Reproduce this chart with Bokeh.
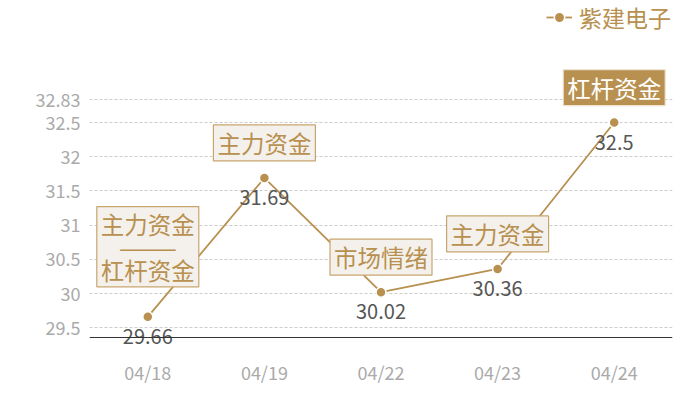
from bokeh.plotting import figure
from bokeh.models import (ColumnDataSource, Range1d, FactorRange, FixedTicker,
                          Legend, LegendItem, CustomJSTickFormatter)
from bokeh.core.properties import value
from bokeh.embed import file_html
from bokeh.resources import INLINE

# ---- data ----
dates = ["04/18", "04/19", "04/22", "04/23", "04/24"]
prices = [29.66, 31.69, 30.02, 30.36, 32.5]
price_labels = ["29.66", "31.69", "30.02", "30.36", "32.5"]
notes = ["主力资金\n———\n杠杆资金", "主力资金", "市场情绪", "主力资金", "杠杆资金"]
series_name = "紫建电子"
y_ticks = [29.5, 30, 30.5, 31, 31.5, 32, 32.5, 32.83]
axis_base = 29.358                      # value where the x axis line sits
y_view = (28.671, 34.284)               # visible span of the frame

# ---- style ----
TAN = "#b8904f"
FONT = "Noto Sans CJK SC"

p = figure(width=684, height=384, output_backend="svg", toolbar_location=None,
           x_range=FactorRange(*dates, range_padding=0),
           y_range=Range1d(*y_view),
           min_border_left=89, min_border_right=12, min_border_top=0,
           min_border_bottom=0)
p.outline_line_color = None
p.background_fill_color = "white"
p.border_fill_color = "white"

# axes
p.yaxis.ticker = FixedTicker(ticks=y_ticks)
p.yaxis.formatter = CustomJSTickFormatter(code="return String(+tick.toFixed(2));")
p.yaxis.axis_line_color = None
p.yaxis.major_tick_line_color = None
p.yaxis.minor_tick_line_color = None
p.yaxis.major_tick_out = 0
p.yaxis.minor_tick_out = 0
p.yaxis.major_label_text_color = "#aaaaaa"
p.yaxis.major_label_text_font = FONT
p.yaxis.major_label_text_font_size = "18px"
p.yaxis.major_label_standoff = 9

p.xaxis.fixed_location = axis_base
p.xaxis.axis_line_color = "#333333"
p.xaxis.axis_line_width = 1
p.xaxis.major_tick_line_color = None
p.xaxis.minor_tick_line_color = None
p.xaxis.major_tick_out = 0
p.xaxis.minor_tick_out = 0
p.xaxis.axis_label_standoff = 0
p.xaxis.major_label_text_color = "#aaaaaa"
p.xaxis.major_label_text_font = FONT
p.xaxis.major_label_text_font_size = "18px"
p.xaxis.major_label_standoff = 21

p.xgrid.grid_line_color = None
p.ygrid.grid_line_color = "#cccccc"
p.ygrid.grid_line_dash = "3 2"
p.ygrid.grid_line_width = 1

src = ColumnDataSource(dict(x=dates, y=prices, lab=price_labels, note=notes))

line = p.line("x", "y", source=src, line_color=TAN, line_width=1.8)
dots = p.scatter("x", "y", source=src, size=10, fill_color=TAN,
                 line_color="white", line_width=1.5)

# value labels below the points
p.text("x", "y", text="lab", source=src, text_align="center",
       text_baseline="top", y_offset=12, text_color="#555555",
       text_font=value(FONT), text_font_size="20px")

# annotation boxes
idx_tall = [0]
idx_plain = [1, 2, 3]
idx_solid = [4]

def sub(ids):
    return ColumnDataSource(dict(x=[dates[i] for i in ids],
                                 y=[prices[i] for i in ids],
                                 note=[notes[i] for i in ids]))

common = dict(text="note", text_align="center", text_baseline="bottom",
              anchor="bottom_center", text_font=value(FONT),
              text_font_size="23.5px")

p.text("x", "y", source=sub(idx_tall), y_offset=-30, text_color=TAN,
       background_fill_color="#f4f1ec", border_line_color="#c9a56e",
       border_line_width=1.2, text_line_height=0.68, padding=(4, 0), **common)
p.text("x", "y", source=sub(idx_plain), y_offset=-17, text_color=TAN,
       background_fill_color="#f4f1ec", border_line_color="#c9a56e",
       border_line_width=1.2, padding=(4, 1), **common)
p.text("x", "y", source=sub(idx_solid), y_offset=-17, text_color="white",
       background_fill_color=TAN, border_line_color="#efe4d2",
       border_line_width=1.2, padding=(4, 1), **common)

legend = Legend(items=[LegendItem(label=series_name, renderers=[line, dots])],
                location=(457, 350), orientation="horizontal",
                border_line_color=None, background_fill_alpha=0,
                padding=0, margin=0, glyph_width=26, glyph_height=26,
                label_height=20, label_standoff=7,
                label_text_font=FONT, label_text_font_size="23px",
                label_text_color=TAN)
p.add_layout(legend, "center")

open("out.html", "w").write(file_html(p, INLINE))
